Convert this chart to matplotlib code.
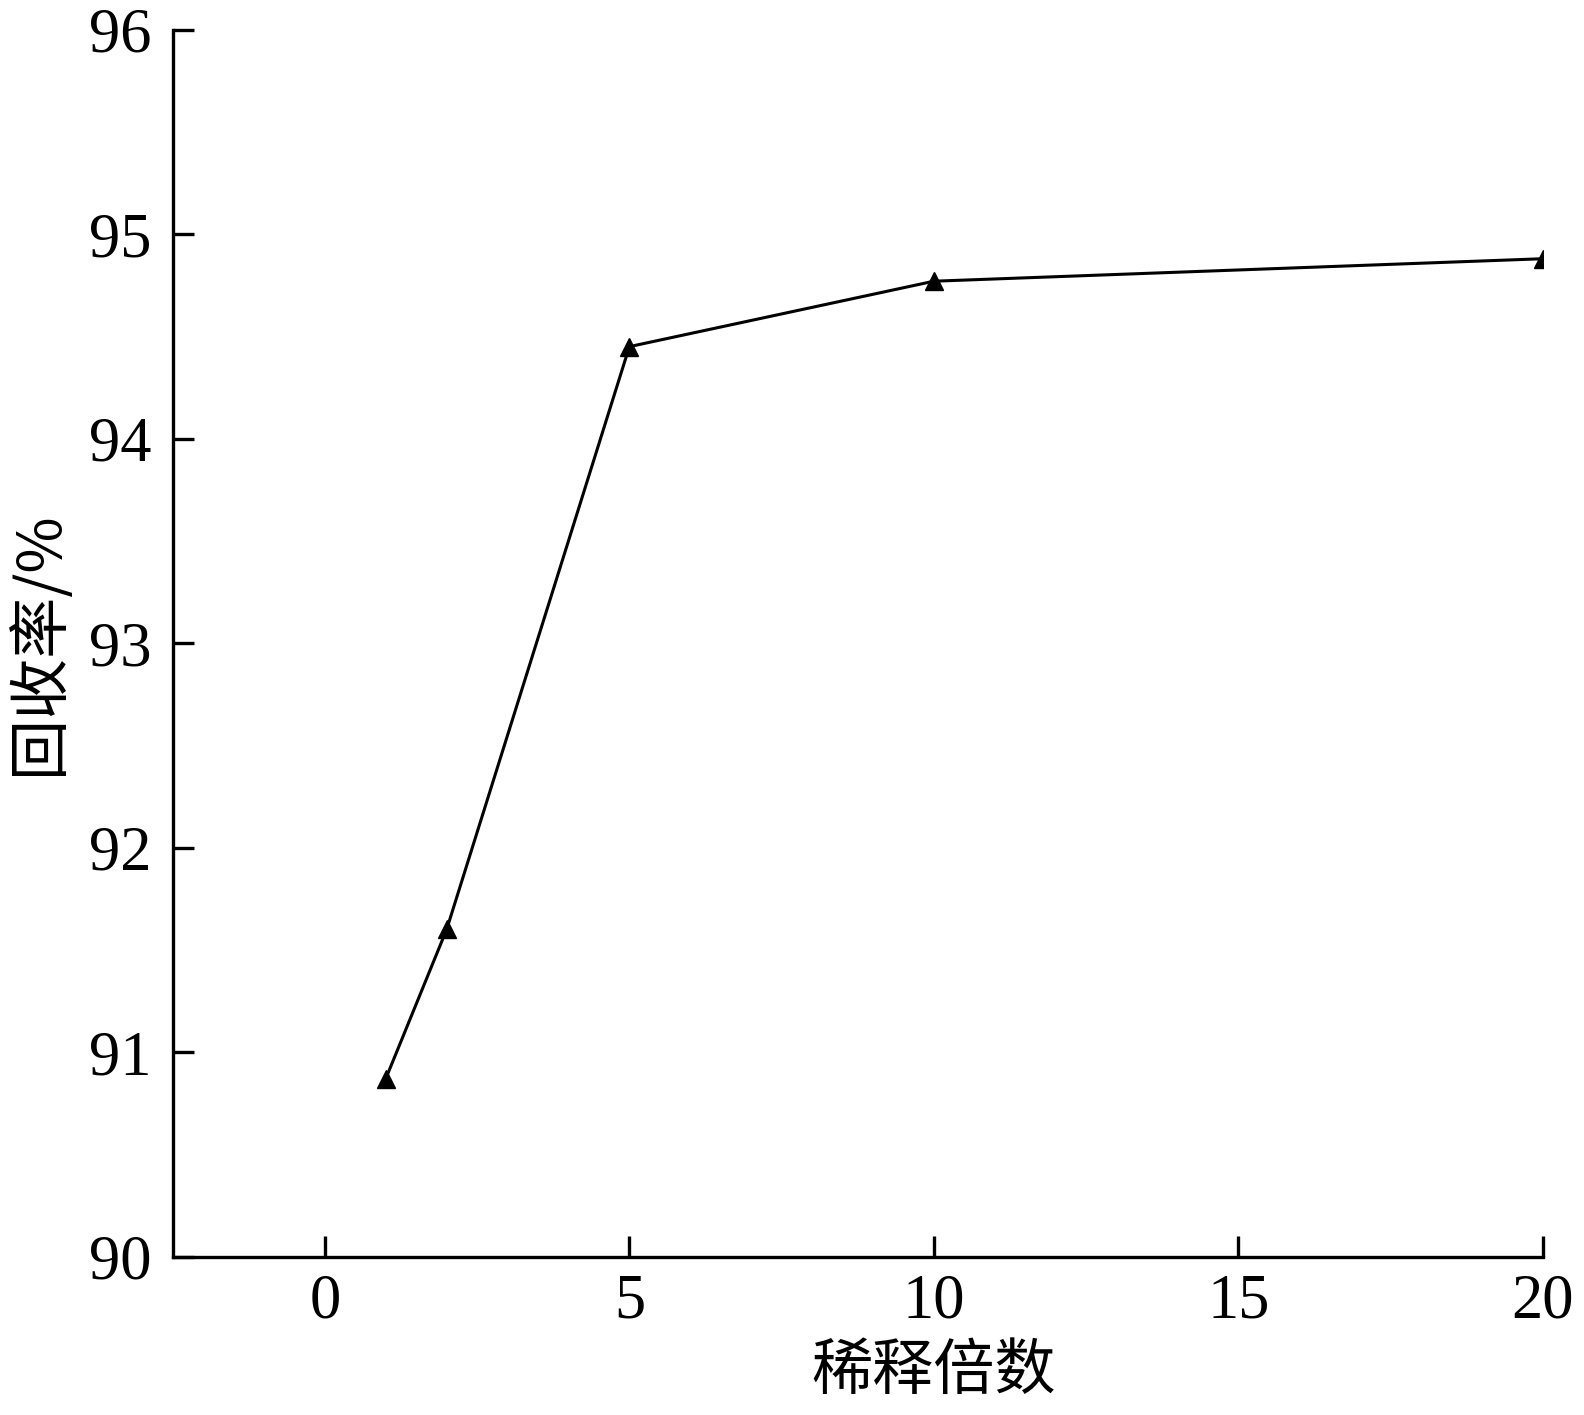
import matplotlib.pyplot as plt

dilution = [1, 2, 5, 10, 20]
recovery = [90.87, 91.6, 94.45, 94.77, 94.88]
xticks = [0, 5, 10, 15, 20]
yticks = [90, 91, 92, 93, 94, 95, 96]

cjk = ['Noto Sans CJK SC', 'DejaVu Sans']

fig = plt.figure(figsize=(15.84, 14.15), dpi=100)
ax = fig.add_axes([0.109, 0.112, 0.865, 0.867])

ax.plot(dilution, recovery, color='black', linewidth=2.2,
        marker='^', markersize=13, markerfacecolor='black', markeredgecolor='black')

ax.set_xlim(-2.5, 20)
ax.set_ylim(90, 96)
ax.set_xticks(xticks)
ax.set_yticks(yticks)

for side in ['top', 'right']:
    ax.spines[side].set_visible(False)
for side in ['left', 'bottom']:
    ax.spines[side].set_linewidth(2.4)

ax.tick_params(direction='in', length=15, width=2.4, labelsize=45)
ax.tick_params(axis='y', pad=15)
ax.tick_params(axis='x', pad=12)
for lab in ax.get_xticklabels() + ax.get_yticklabels():
    lab.set_family('Liberation Serif')

ax.set_xlabel('稀释倍数', family=cjk, fontsize=44)
ax.xaxis.set_label_coords((10 + 2.5) / 22.5, -0.068)
ax.set_ylabel('回收率/%', family=cjk, fontsize=44)
ax.yaxis.set_label_coords(-0.074, 0.5)

plt.savefig('out.png')
